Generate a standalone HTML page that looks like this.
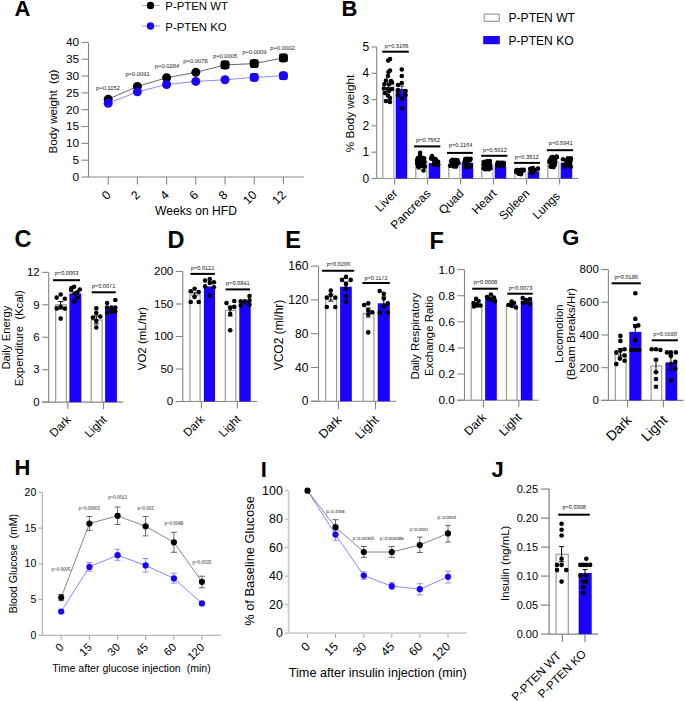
<!DOCTYPE html>
<html><head><meta charset="utf-8"><title>Figure</title>
<style>
html,body{margin:0;padding:0;background:#fff;}
body{width:685px;height:701px;overflow:hidden;}
svg{display:block;font-family:"Liberation Sans",sans-serif;white-space:pre;}
text.p{text-rendering:geometricPrecision;}
</style></head><body>
<svg width="685" height="701" viewBox="0 0 685 701">
<rect width="685" height="701" fill="#fff"/>
<text x="14.6" y="16.2" font-size="22" font-weight="bold">A</text>
<line x1="142" y1="5.5" x2="160" y2="5.5" stroke="#aaa" stroke-width="0.8"/>
<circle cx="150.5" cy="5.5" r="3.7" fill="#000"/>
<text x="165.3" y="10" font-size="11.4">P-PTEN WT</text>
<line x1="142" y1="26" x2="160" y2="26" stroke="#6666ff" stroke-width="0.7"/>
<circle cx="150.5" cy="26" r="3.7" fill="#1900ff"/>
<text x="165.3" y="30.6" font-size="11.4">P-PTEN KO</text>
<line x1="88.5" y1="42.4" x2="88.5" y2="177" stroke="#858585" stroke-width="1.1"/>
<line x1="81.5" y1="177" x2="88.5" y2="177" stroke="#858585" stroke-width="1.1"/>
<text x="79.1" y="180.92" font-size="11.8" text-anchor="end">0</text>
<line x1="81.5" y1="160.18" x2="88.5" y2="160.18" stroke="#858585" stroke-width="1.1"/>
<text x="79.1" y="164.1" font-size="11.8" text-anchor="end">5</text>
<line x1="81.5" y1="143.35" x2="88.5" y2="143.35" stroke="#858585" stroke-width="1.1"/>
<text x="79.1" y="147.27" font-size="11.8" text-anchor="end">10</text>
<line x1="81.5" y1="126.53" x2="88.5" y2="126.53" stroke="#858585" stroke-width="1.1"/>
<text x="79.1" y="130.45" font-size="11.8" text-anchor="end">15</text>
<line x1="81.5" y1="109.7" x2="88.5" y2="109.7" stroke="#858585" stroke-width="1.1"/>
<text x="79.1" y="113.62" font-size="11.8" text-anchor="end">20</text>
<line x1="81.5" y1="92.88" x2="88.5" y2="92.88" stroke="#858585" stroke-width="1.1"/>
<text x="79.1" y="96.8" font-size="11.8" text-anchor="end">25</text>
<line x1="81.5" y1="76.05" x2="88.5" y2="76.05" stroke="#858585" stroke-width="1.1"/>
<text x="79.1" y="79.97" font-size="11.8" text-anchor="end">30</text>
<line x1="81.5" y1="59.22" x2="88.5" y2="59.22" stroke="#858585" stroke-width="1.1"/>
<text x="79.1" y="63.15" font-size="11.8" text-anchor="end">35</text>
<line x1="81.5" y1="42.4" x2="88.5" y2="42.4" stroke="#858585" stroke-width="1.1"/>
<text x="79.1" y="46.32" font-size="11.8" text-anchor="end">40</text>
<line x1="88.5" y1="177" x2="304" y2="177" stroke="#858585" stroke-width="1.1"/>
<line x1="108.2" y1="177" x2="108.2" y2="184.5" stroke="#858585" stroke-width="1.1"/>
<text x="111.5" y="195.6" font-size="12.2" text-anchor="end" transform="rotate(-45 111.5 195.6)">0</text>
<line x1="137.4" y1="177" x2="137.4" y2="184.5" stroke="#858585" stroke-width="1.1"/>
<text x="140.7" y="195.6" font-size="12.2" text-anchor="end" transform="rotate(-45 140.7 195.6)">2</text>
<line x1="166.6" y1="177" x2="166.6" y2="184.5" stroke="#858585" stroke-width="1.1"/>
<text x="169.9" y="195.6" font-size="12.2" text-anchor="end" transform="rotate(-45 169.9 195.6)">4</text>
<line x1="195.8" y1="177" x2="195.8" y2="184.5" stroke="#858585" stroke-width="1.1"/>
<text x="199.1" y="195.6" font-size="12.2" text-anchor="end" transform="rotate(-45 199.1 195.6)">6</text>
<line x1="225" y1="177" x2="225" y2="184.5" stroke="#858585" stroke-width="1.1"/>
<text x="228.3" y="195.6" font-size="12.2" text-anchor="end" transform="rotate(-45 228.3 195.6)">8</text>
<line x1="254.2" y1="177" x2="254.2" y2="184.5" stroke="#858585" stroke-width="1.1"/>
<text x="257.5" y="195.6" font-size="12.2" text-anchor="end" transform="rotate(-45 257.5 195.6)">10</text>
<line x1="283.4" y1="177" x2="283.4" y2="184.5" stroke="#858585" stroke-width="1.1"/>
<text x="286.7" y="195.6" font-size="12.2" text-anchor="end" transform="rotate(-45 286.7 195.6)">12</text>
<text x="196" y="214.5" font-size="12.1" text-anchor="middle">Weeks on HFD</text>
<text x="57.5" y="111.6" font-size="11.6" text-anchor="middle" transform="rotate(-90 57.5 111.6)">Body weight &#160;(g)</text>
<polyline points="108.2,99.27 137.4,86.48 166.6,77.73 195.8,72.35 225,64.95 254.2,63.6 283.4,57.88" fill="none" stroke="#333" stroke-width="0.75"/>
<polyline points="108.2,103.31 137.4,91.87 166.6,84.46 195.8,81.43 225,79.75 254.2,77.4 283.4,75.71" fill="none" stroke="#5a5aff" stroke-width="0.7"/>
<circle cx="108.2" cy="99.27" r="4.5" fill="#000"/>
<circle cx="137.4" cy="86.48" r="4.5" fill="#000"/>
<circle cx="166.6" cy="77.73" r="4.5" fill="#000"/>
<circle cx="195.8" cy="72.35" r="4.5" fill="#000"/>
<circle cx="225" cy="64.95" r="4.5" fill="#000"/>
<circle cx="254.2" cy="63.6" r="4.5" fill="#000"/>
<circle cx="283.4" cy="57.88" r="4.5" fill="#000"/>
<rect x="220.6" y="60.55" width="8.8" height="8.8" rx="2" fill="#000"/>
<rect x="249.8" y="59.2" width="8.8" height="8.8" rx="2" fill="#000"/>
<rect x="279" y="53.48" width="8.8" height="8.8" rx="2" fill="#000"/>
<circle cx="108.2" cy="103.31" r="4.5" fill="#1900ff"/>
<circle cx="137.4" cy="91.87" r="4.5" fill="#1900ff"/>
<circle cx="166.6" cy="84.46" r="4.5" fill="#1900ff"/>
<circle cx="195.8" cy="81.43" r="4.5" fill="#1900ff"/>
<circle cx="225" cy="79.75" r="4.5" fill="#1900ff"/>
<circle cx="254.2" cy="77.4" r="4.5" fill="#1900ff"/>
<rect x="249.9" y="73.1" width="8.6" height="8.6" rx="2.6" fill="#1900ff"/>
<circle cx="283.4" cy="75.71" r="4.5" fill="#1900ff"/>
<rect x="279.1" y="71.41" width="8.6" height="8.6" rx="2.6" fill="#1900ff"/>
<text x="108" y="90.39" font-size="5.8" text-anchor="middle" fill="#111" class="p">p=0.1152</text>
<text x="137.6" y="75.79" font-size="5.8" text-anchor="middle" fill="#111" class="p">p=0.0091</text>
<text x="167" y="68.49" font-size="5.8" text-anchor="middle" fill="#111" class="p">p=0.0284</text>
<text x="195.5" y="63.29" font-size="5.8" text-anchor="middle" fill="#111" class="p">p=0.0078</text>
<text x="225.1" y="57.79" font-size="5.8" text-anchor="middle" fill="#111" class="p">p=0.0005</text>
<text x="254.3" y="53.69" font-size="5.8" text-anchor="middle" fill="#111" class="p">p=0.0009</text>
<text x="282.5" y="49.89" font-size="5.8" text-anchor="middle" fill="#111" class="p">p=0.0002</text>
<text x="341.6" y="16" font-size="22" font-weight="bold">B</text>
<rect x="484.2" y="14.1" width="15" height="7.2" fill="#fff" stroke="#888" stroke-width="1"/>
<text x="508.5" y="22.3" font-size="12.1">P-PTEN WT</text>
<rect x="483.2" y="36" width="16.6" height="8.2" fill="#1900ff"/>
<text x="508.5" y="44.7" font-size="12.1">P-PTEN KO</text>
<line x1="376.7" y1="47" x2="376.7" y2="178.5" stroke="#858585" stroke-width="1.1"/>
<line x1="371.7" y1="178.5" x2="376.7" y2="178.5" stroke="#858585" stroke-width="1.1"/>
<text x="369.1" y="182.5" font-size="12" text-anchor="end">0</text>
<line x1="371.7" y1="152.2" x2="376.7" y2="152.2" stroke="#858585" stroke-width="1.1"/>
<text x="369.1" y="156.2" font-size="12" text-anchor="end">1</text>
<line x1="371.7" y1="125.9" x2="376.7" y2="125.9" stroke="#858585" stroke-width="1.1"/>
<text x="369.1" y="129.9" font-size="12" text-anchor="end">2</text>
<line x1="371.7" y1="99.6" x2="376.7" y2="99.6" stroke="#858585" stroke-width="1.1"/>
<text x="369.1" y="103.6" font-size="12" text-anchor="end">3</text>
<line x1="371.7" y1="73.3" x2="376.7" y2="73.3" stroke="#858585" stroke-width="1.1"/>
<text x="369.1" y="77.3" font-size="12" text-anchor="end">4</text>
<line x1="371.7" y1="47" x2="376.7" y2="47" stroke="#858585" stroke-width="1.1"/>
<text x="369.1" y="51" font-size="12" text-anchor="end">5</text>
<line x1="376.7" y1="178.5" x2="578.5" y2="178.5" stroke="#858585" stroke-width="1.1"/>
<text x="354" y="113.5" font-size="11.7" text-anchor="middle" transform="rotate(-90 354 113.5)">% Body weight</text>
<rect x="382.8" y="83.82" width="10.8" height="94.68" fill="#fff" stroke="#999" stroke-width="1.2"/>
<line x1="393.7" y1="83.82" x2="393.7" y2="178.5" stroke="#c4c4c4" stroke-width="1.2"/>
<rect x="395.7" y="89.08" width="11.5" height="89.42" fill="#1900ff"/>
<line x1="394.6" y1="178.5" x2="394.6" y2="184.5" stroke="#858585" stroke-width="1.1"/>
<text x="398.4" y="194.2" font-size="12" text-anchor="end" transform="rotate(-45 398.4 194.2)">Liver</text>
<line x1="382.2" y1="51.7" x2="408.8" y2="51.7" stroke="#000" stroke-width="2"/>
<text x="396.6" y="47.55" font-size="5.7" text-anchor="middle" fill="#111" class="p">p=0.3165</text>
<rect x="415.8" y="161.41" width="10.8" height="17.09" fill="#fff" stroke="#999" stroke-width="1.2"/>
<line x1="426.7" y1="161.41" x2="426.7" y2="178.5" stroke="#c4c4c4" stroke-width="1.2"/>
<rect x="428.7" y="163.11" width="11.5" height="15.39" fill="#1900ff"/>
<line x1="427.6" y1="178.5" x2="427.6" y2="184.5" stroke="#858585" stroke-width="1.1"/>
<text x="431.4" y="194.2" font-size="12" text-anchor="end" transform="rotate(-45 431.4 194.2)">Pancreas</text>
<line x1="414.1" y1="146.4" x2="440.3" y2="146.4" stroke="#000" stroke-width="2"/>
<text x="427.9" y="142.35" font-size="5.7" text-anchor="middle" fill="#111" class="p">p=0.7562</text>
<rect x="448.8" y="164.03" width="10.8" height="14.47" fill="#fff" stroke="#999" stroke-width="1.2"/>
<line x1="459.7" y1="164.03" x2="459.7" y2="178.5" stroke="#c4c4c4" stroke-width="1.2"/>
<rect x="461.7" y="162.72" width="11.5" height="15.78" fill="#1900ff"/>
<line x1="460.6" y1="178.5" x2="460.6" y2="184.5" stroke="#858585" stroke-width="1.1"/>
<text x="464.4" y="194.2" font-size="12" text-anchor="end" transform="rotate(-45 464.4 194.2)">Quad</text>
<line x1="447" y1="152.9" x2="472.8" y2="152.9" stroke="#000" stroke-width="2"/>
<text x="460.6" y="147.25" font-size="5.7" text-anchor="middle" fill="#111" class="p">p=0.1164</text>
<rect x="481.8" y="164.03" width="10.8" height="14.47" fill="#fff" stroke="#999" stroke-width="1.2"/>
<line x1="492.7" y1="164.03" x2="492.7" y2="178.5" stroke="#c4c4c4" stroke-width="1.2"/>
<rect x="494.7" y="166.14" width="11.5" height="12.36" fill="#1900ff"/>
<line x1="493.6" y1="178.5" x2="493.6" y2="184.5" stroke="#858585" stroke-width="1.1"/>
<text x="497.4" y="194.2" font-size="12" text-anchor="end" transform="rotate(-45 497.4 194.2)">Heart</text>
<line x1="481.1" y1="155.8" x2="507.4" y2="155.8" stroke="#000" stroke-width="2"/>
<text x="495" y="152.05" font-size="5.7" text-anchor="middle" fill="#111" class="p">p=0.5012</text>
<rect x="514.8" y="171.14" width="10.8" height="7.36" fill="#fff" stroke="#999" stroke-width="1.2"/>
<line x1="525.7" y1="171.14" x2="525.7" y2="178.5" stroke="#c4c4c4" stroke-width="1.2"/>
<rect x="527.7" y="171.4" width="11.5" height="7.1" fill="#1900ff"/>
<line x1="526.6" y1="178.5" x2="526.6" y2="184.5" stroke="#858585" stroke-width="1.1"/>
<text x="530.4" y="194.2" font-size="12" text-anchor="end" transform="rotate(-45 530.4 194.2)">Spleen</text>
<line x1="514" y1="162.9" x2="540" y2="162.9" stroke="#000" stroke-width="2"/>
<text x="526.8" y="158.85" font-size="5.7" text-anchor="middle" fill="#111" class="p">p=0.3512</text>
<rect x="547.8" y="162.19" width="10.8" height="16.31" fill="#fff" stroke="#999" stroke-width="1.2"/>
<line x1="558.7" y1="162.19" x2="558.7" y2="178.5" stroke="#c4c4c4" stroke-width="1.2"/>
<rect x="560.7" y="162.72" width="11.5" height="15.78" fill="#1900ff"/>
<line x1="559.6" y1="178.5" x2="559.6" y2="184.5" stroke="#858585" stroke-width="1.1"/>
<text x="560.7" y="196.9" font-size="12" text-anchor="end" transform="rotate(-45 560.7 196.9)">Lungs</text>
<line x1="546.8" y1="150.2" x2="573.1" y2="150.2" stroke="#000" stroke-width="2"/>
<text x="560.7" y="145.25" font-size="5.7" text-anchor="middle" fill="#111" class="p">p=0.5941</text>
<circle cx="388.2" cy="60.5" r="2.3" fill="#000"/>
<circle cx="390" cy="59" r="2.3" fill="#000"/>
<circle cx="388.5" cy="72" r="2.3" fill="#000"/>
<circle cx="390" cy="70.5" r="2.3" fill="#000"/>
<circle cx="388" cy="76" r="2.3" fill="#000"/>
<circle cx="386" cy="80.5" r="2.3" fill="#000"/>
<circle cx="391" cy="81" r="2.3" fill="#000"/>
<circle cx="384.5" cy="84" r="2.3" fill="#000"/>
<circle cx="389" cy="84.5" r="2.3" fill="#000"/>
<circle cx="392" cy="82.5" r="2.3" fill="#000"/>
<circle cx="384" cy="88.5" r="2.3" fill="#000"/>
<circle cx="388" cy="89" r="2.3" fill="#000"/>
<circle cx="392" cy="89" r="2.3" fill="#000"/>
<circle cx="385" cy="93" r="2.3" fill="#000"/>
<circle cx="389" cy="91" r="2.3" fill="#000"/>
<circle cx="388" cy="95.5" r="2.3" fill="#000"/>
<circle cx="390" cy="98" r="2.3" fill="#000"/>
<circle cx="386" cy="101" r="2.3" fill="#000"/>
<circle cx="390" cy="102" r="2.3" fill="#000"/>
<circle cx="401.8" cy="69.5" r="2.3" fill="#000"/>
<circle cx="401.8" cy="76" r="2.3" fill="#000"/>
<circle cx="401.8" cy="83" r="2.3" fill="#000"/>
<circle cx="398" cy="85" r="2.3" fill="#000"/>
<circle cx="398" cy="90" r="2.3" fill="#000"/>
<circle cx="405.5" cy="91" r="2.3" fill="#000"/>
<circle cx="398" cy="95" r="2.3" fill="#000"/>
<circle cx="405.5" cy="95" r="2.3" fill="#000"/>
<circle cx="401.8" cy="98.5" r="2.3" fill="#000"/>
<circle cx="401.8" cy="108.5" r="2.3" fill="#000"/>
<line x1="401.8" y1="86" x2="401.8" y2="92" stroke="#333" stroke-width="1"/>
<line x1="399.3" y1="86" x2="404.3" y2="86" stroke="#333" stroke-width="1"/>
<line x1="399.3" y1="92" x2="404.3" y2="92" stroke="#333" stroke-width="1"/>
<circle cx="418.07" cy="166.47" r="2.3" fill="#000"/>
<circle cx="423.11" cy="160.55" r="2.3" fill="#000"/>
<circle cx="420.96" cy="162.49" r="2.3" fill="#000"/>
<circle cx="422.21" cy="165.89" r="2.3" fill="#000"/>
<circle cx="417.75" cy="158.28" r="2.3" fill="#000"/>
<circle cx="423.69" cy="162.33" r="2.3" fill="#000"/>
<circle cx="423.1" cy="158.02" r="2.3" fill="#000"/>
<circle cx="420.56" cy="165.22" r="2.3" fill="#000"/>
<circle cx="418.83" cy="167.45" r="2.3" fill="#000"/>
<circle cx="424.21" cy="158.31" r="2.3" fill="#000"/>
<circle cx="417.2" cy="163.41" r="2.3" fill="#000"/>
<circle cx="424.51" cy="161.81" r="2.3" fill="#000"/>
<circle cx="418.73" cy="162.22" r="2.3" fill="#000"/>
<circle cx="417.23" cy="160.22" r="2.3" fill="#000"/>
<circle cx="420.5" cy="162.96" r="2.3" fill="#000"/>
<circle cx="418.86" cy="160.31" r="2.3" fill="#000"/>
<circle cx="418.75" cy="162.6" r="2.3" fill="#000"/>
<circle cx="419.32" cy="158.21" r="2.3" fill="#000"/>
<circle cx="423.7" cy="163.56" r="2.3" fill="#000"/>
<circle cx="422.14" cy="159.86" r="2.3" fill="#000"/>
<circle cx="424.94" cy="166.6" r="2.3" fill="#000"/>
<circle cx="417.97" cy="161.33" r="2.3" fill="#000"/>
<circle cx="420.2" cy="152.7" r="2.3" fill="#000"/>
<circle cx="423.5" cy="170.5" r="2.3" fill="#000"/>
<circle cx="420" cy="155.5" r="2.3" fill="#000"/>
<circle cx="438.17" cy="164.63" r="2.3" fill="#000"/>
<circle cx="431.42" cy="158.59" r="2.3" fill="#000"/>
<circle cx="437.27" cy="163.15" r="2.3" fill="#000"/>
<circle cx="436.02" cy="160.16" r="2.3" fill="#000"/>
<circle cx="435.54" cy="162.25" r="2.3" fill="#000"/>
<circle cx="435.36" cy="159.11" r="2.3" fill="#000"/>
<circle cx="434.23" cy="160.75" r="2.3" fill="#000"/>
<circle cx="436.42" cy="164.96" r="2.3" fill="#000"/>
<circle cx="438.12" cy="161.81" r="2.3" fill="#000"/>
<circle cx="434.34" cy="159.88" r="2.3" fill="#000"/>
<circle cx="431.27" cy="158.19" r="2.3" fill="#000"/>
<circle cx="434.49" cy="160.23" r="2.3" fill="#000"/>
<circle cx="433.85" cy="164.24" r="2.3" fill="#000"/>
<circle cx="434.94" cy="161.92" r="2.3" fill="#000"/>
<circle cx="432.77" cy="158.17" r="2.3" fill="#000"/>
<circle cx="433.44" cy="158.96" r="2.3" fill="#000"/>
<circle cx="432" cy="156" r="2.3" fill="#000"/>
<circle cx="452.02" cy="163.58" r="2.3" fill="#000"/>
<circle cx="453.14" cy="164.03" r="2.3" fill="#000"/>
<circle cx="455.32" cy="159.99" r="2.3" fill="#000"/>
<circle cx="450.11" cy="165.78" r="2.3" fill="#000"/>
<circle cx="452.2" cy="161.26" r="2.3" fill="#000"/>
<circle cx="458.46" cy="163.03" r="2.3" fill="#000"/>
<circle cx="457.11" cy="163.07" r="2.3" fill="#000"/>
<circle cx="455.43" cy="160.63" r="2.3" fill="#000"/>
<circle cx="455.4" cy="166.01" r="2.3" fill="#000"/>
<circle cx="454.45" cy="165.06" r="2.3" fill="#000"/>
<circle cx="455.71" cy="159.98" r="2.3" fill="#000"/>
<circle cx="456.44" cy="163.93" r="2.3" fill="#000"/>
<circle cx="452.56" cy="159.73" r="2.3" fill="#000"/>
<circle cx="457.36" cy="163.05" r="2.3" fill="#000"/>
<circle cx="456.11" cy="166.09" r="2.3" fill="#000"/>
<circle cx="456.07" cy="166.41" r="2.3" fill="#000"/>
<circle cx="453.36" cy="165.51" r="2.3" fill="#000"/>
<circle cx="453.78" cy="166.52" r="2.3" fill="#000"/>
<circle cx="457.47" cy="160.23" r="2.3" fill="#000"/>
<circle cx="451.16" cy="161.13" r="2.3" fill="#000"/>
<circle cx="458.21" cy="162.77" r="2.3" fill="#000"/>
<circle cx="455.33" cy="161.76" r="2.3" fill="#000"/>
<circle cx="454.31" cy="162.39" r="2.3" fill="#000"/>
<circle cx="452.98" cy="163.89" r="2.3" fill="#000"/>
<circle cx="465.77" cy="159.03" r="2.3" fill="#000"/>
<circle cx="466.97" cy="159.55" r="2.3" fill="#000"/>
<circle cx="464.5" cy="162.02" r="2.3" fill="#000"/>
<circle cx="470.88" cy="166" r="2.3" fill="#000"/>
<circle cx="469.74" cy="160.22" r="2.3" fill="#000"/>
<circle cx="468.03" cy="160.77" r="2.3" fill="#000"/>
<circle cx="465.29" cy="159.06" r="2.3" fill="#000"/>
<circle cx="465.61" cy="167.27" r="2.3" fill="#000"/>
<circle cx="470.22" cy="166.07" r="2.3" fill="#000"/>
<circle cx="470" cy="159.93" r="2.3" fill="#000"/>
<circle cx="466.32" cy="164.27" r="2.3" fill="#000"/>
<circle cx="469.49" cy="166.55" r="2.3" fill="#000"/>
<circle cx="470.6" cy="158.87" r="2.3" fill="#000"/>
<circle cx="468.54" cy="164.72" r="2.3" fill="#000"/>
<circle cx="467.79" cy="159.78" r="2.3" fill="#000"/>
<circle cx="467.55" cy="158.89" r="2.3" fill="#000"/>
<circle cx="487.86" cy="167.05" r="2.3" fill="#000"/>
<circle cx="489.07" cy="168.95" r="2.3" fill="#000"/>
<circle cx="488.68" cy="168.76" r="2.3" fill="#000"/>
<circle cx="483.7" cy="164.42" r="2.3" fill="#000"/>
<circle cx="490.1" cy="166.17" r="2.3" fill="#000"/>
<circle cx="489.81" cy="161.08" r="2.3" fill="#000"/>
<circle cx="486.78" cy="162.34" r="2.3" fill="#000"/>
<circle cx="487.31" cy="165.45" r="2.3" fill="#000"/>
<circle cx="483.59" cy="162.06" r="2.3" fill="#000"/>
<circle cx="485.46" cy="168.71" r="2.3" fill="#000"/>
<circle cx="488.86" cy="161.52" r="2.3" fill="#000"/>
<circle cx="489.08" cy="161.32" r="2.3" fill="#000"/>
<circle cx="487.82" cy="161.2" r="2.3" fill="#000"/>
<circle cx="483.51" cy="168.28" r="2.3" fill="#000"/>
<circle cx="484.97" cy="162.05" r="2.3" fill="#000"/>
<circle cx="490.38" cy="168.29" r="2.3" fill="#000"/>
<circle cx="485.53" cy="169.13" r="2.3" fill="#000"/>
<circle cx="487.27" cy="166.44" r="2.3" fill="#000"/>
<circle cx="484.93" cy="168.94" r="2.3" fill="#000"/>
<circle cx="488.33" cy="169.18" r="2.3" fill="#000"/>
<circle cx="489.76" cy="162.84" r="2.3" fill="#000"/>
<circle cx="486.03" cy="161.58" r="2.3" fill="#000"/>
<circle cx="503.35" cy="165.61" r="2.3" fill="#000"/>
<circle cx="500.88" cy="162.81" r="2.3" fill="#000"/>
<circle cx="497" cy="164.81" r="2.3" fill="#000"/>
<circle cx="500.76" cy="165.3" r="2.3" fill="#000"/>
<circle cx="499.99" cy="165.35" r="2.3" fill="#000"/>
<circle cx="499.18" cy="165.51" r="2.3" fill="#000"/>
<circle cx="502.84" cy="163.57" r="2.3" fill="#000"/>
<circle cx="501.31" cy="164.91" r="2.3" fill="#000"/>
<circle cx="498.54" cy="164.27" r="2.3" fill="#000"/>
<circle cx="503.44" cy="162.83" r="2.3" fill="#000"/>
<circle cx="503.43" cy="164.93" r="2.3" fill="#000"/>
<circle cx="503.75" cy="163.18" r="2.3" fill="#000"/>
<circle cx="497.75" cy="165.5" r="2.3" fill="#000"/>
<circle cx="503.44" cy="163.73" r="2.3" fill="#000"/>
<circle cx="497.75" cy="162.49" r="2.3" fill="#000"/>
<circle cx="502.08" cy="162.96" r="2.3" fill="#000"/>
<circle cx="518.59" cy="170.25" r="2.3" fill="#000"/>
<circle cx="521.21" cy="169.86" r="2.3" fill="#000"/>
<circle cx="520.29" cy="171.33" r="2.3" fill="#000"/>
<circle cx="516.46" cy="172.04" r="2.3" fill="#000"/>
<circle cx="516.3" cy="171.67" r="2.3" fill="#000"/>
<circle cx="516.56" cy="169.95" r="2.3" fill="#000"/>
<circle cx="519.4" cy="173.63" r="2.3" fill="#000"/>
<circle cx="516.99" cy="170.62" r="2.3" fill="#000"/>
<circle cx="521.02" cy="174.24" r="2.3" fill="#000"/>
<circle cx="520.62" cy="171.48" r="2.3" fill="#000"/>
<circle cx="523.81" cy="169.73" r="2.3" fill="#000"/>
<circle cx="522.87" cy="170.95" r="2.3" fill="#000"/>
<circle cx="517.15" cy="170.09" r="2.3" fill="#000"/>
<circle cx="518.47" cy="173.58" r="2.3" fill="#000"/>
<circle cx="531.81" cy="172.79" r="2.3" fill="#000"/>
<circle cx="531.01" cy="171.38" r="2.3" fill="#000"/>
<circle cx="530.68" cy="168.86" r="2.3" fill="#000"/>
<circle cx="537.99" cy="168.65" r="2.3" fill="#000"/>
<circle cx="535.13" cy="170.03" r="2.3" fill="#000"/>
<circle cx="533.63" cy="170.22" r="2.3" fill="#000"/>
<circle cx="531.54" cy="172.07" r="2.3" fill="#000"/>
<circle cx="530.72" cy="168.79" r="2.3" fill="#000"/>
<circle cx="530.16" cy="168.97" r="2.3" fill="#000"/>
<circle cx="533.26" cy="172.46" r="2.3" fill="#000"/>
<circle cx="533.03" cy="168.13" r="2.3" fill="#000"/>
<circle cx="532.07" cy="172.95" r="2.3" fill="#000"/>
<circle cx="553.2" cy="160.48" r="2.3" fill="#000"/>
<circle cx="550.61" cy="166.4" r="2.3" fill="#000"/>
<circle cx="549.55" cy="162.03" r="2.3" fill="#000"/>
<circle cx="556.69" cy="156.97" r="2.3" fill="#000"/>
<circle cx="553.93" cy="163.4" r="2.3" fill="#000"/>
<circle cx="549.83" cy="160.55" r="2.3" fill="#000"/>
<circle cx="555.13" cy="161.42" r="2.3" fill="#000"/>
<circle cx="555.3" cy="157.89" r="2.3" fill="#000"/>
<circle cx="551.4" cy="157.33" r="2.3" fill="#000"/>
<circle cx="553.55" cy="167.09" r="2.3" fill="#000"/>
<circle cx="554.22" cy="165.29" r="2.3" fill="#000"/>
<circle cx="552.57" cy="164.95" r="2.3" fill="#000"/>
<circle cx="550.31" cy="159.49" r="2.3" fill="#000"/>
<circle cx="554.89" cy="164.71" r="2.3" fill="#000"/>
<circle cx="552.87" cy="157.05" r="2.3" fill="#000"/>
<circle cx="551.63" cy="158.52" r="2.3" fill="#000"/>
<circle cx="551.75" cy="165.71" r="2.3" fill="#000"/>
<circle cx="551.1" cy="166.64" r="2.3" fill="#000"/>
<circle cx="556.53" cy="156.66" r="2.3" fill="#000"/>
<circle cx="552.53" cy="161.9" r="2.3" fill="#000"/>
<circle cx="549.69" cy="161.1" r="2.3" fill="#000"/>
<circle cx="556.75" cy="157.34" r="2.3" fill="#000"/>
<circle cx="567.57" cy="161.86" r="2.3" fill="#000"/>
<circle cx="567.62" cy="159.85" r="2.3" fill="#000"/>
<circle cx="569.51" cy="165.41" r="2.3" fill="#000"/>
<circle cx="568.23" cy="159.44" r="2.3" fill="#000"/>
<circle cx="567.17" cy="160.95" r="2.3" fill="#000"/>
<circle cx="565" cy="166.58" r="2.3" fill="#000"/>
<circle cx="570.97" cy="158.4" r="2.3" fill="#000"/>
<circle cx="569.88" cy="163.43" r="2.3" fill="#000"/>
<circle cx="566.05" cy="160.55" r="2.3" fill="#000"/>
<circle cx="568.4" cy="162.11" r="2.3" fill="#000"/>
<circle cx="568.49" cy="163.96" r="2.3" fill="#000"/>
<circle cx="564.06" cy="164.91" r="2.3" fill="#000"/>
<circle cx="570.86" cy="166.72" r="2.3" fill="#000"/>
<circle cx="567.91" cy="158.4" r="2.3" fill="#000"/>
<circle cx="563.03" cy="159.21" r="2.3" fill="#000"/>
<circle cx="570.53" cy="160.73" r="2.3" fill="#000"/>
<text x="14.4" y="247.2" font-size="23.5" font-weight="bold">C</text>
<line x1="48.7" y1="272.38" x2="48.7" y2="402.1" stroke="#858585" stroke-width="1.1"/>
<line x1="42.2" y1="402.1" x2="48.7" y2="402.1" stroke="#858585" stroke-width="1.1"/>
<text x="39.6" y="405.88" font-size="11.4" text-anchor="end">0</text>
<line x1="42.2" y1="369.67" x2="48.7" y2="369.67" stroke="#858585" stroke-width="1.1"/>
<text x="39.6" y="373.45" font-size="11.4" text-anchor="end">3</text>
<line x1="42.2" y1="337.24" x2="48.7" y2="337.24" stroke="#858585" stroke-width="1.1"/>
<text x="39.6" y="341.02" font-size="11.4" text-anchor="end">6</text>
<line x1="42.2" y1="304.81" x2="48.7" y2="304.81" stroke="#858585" stroke-width="1.1"/>
<text x="39.6" y="308.59" font-size="11.4" text-anchor="end">9</text>
<line x1="42.2" y1="272.38" x2="48.7" y2="272.38" stroke="#858585" stroke-width="1.1"/>
<text x="39.6" y="276.16" font-size="11.4" text-anchor="end">12</text>
<line x1="42.2" y1="402.1" x2="123.2" y2="402.1" stroke="#858585" stroke-width="1.1"/>
<rect x="55.7" y="304.81" width="10.6" height="97.29" fill="#fff" stroke="#999" stroke-width="1.2"/>
<rect x="69.4" y="293.46" width="11.9" height="108.64" fill="#1900ff"/>
<rect x="91.2" y="319.94" width="10.9" height="82.16" fill="#fff" stroke="#999" stroke-width="1.2"/>
<rect x="105.1" y="307.51" width="11.8" height="94.59" fill="#1900ff"/>
<line x1="67.8" y1="402.1" x2="67.8" y2="409.1" stroke="#858585" stroke-width="1.1"/>
<text x="71.6" y="420.4" font-size="11.6" text-anchor="end" transform="rotate(-45 71.6 420.4)">Dark</text>
<line x1="103.5" y1="402.1" x2="103.5" y2="409.1" stroke="#858585" stroke-width="1.1"/>
<text x="107.3" y="420.4" font-size="11.6" text-anchor="end" transform="rotate(-45 107.3 420.4)">Light</text>
<line x1="53" y1="280.2" x2="80" y2="280.2" stroke="#000" stroke-width="2"/>
<text x="66.5" y="275.42" font-size="5.6" text-anchor="middle" fill="#111" class="p">p=0.0063</text>
<line x1="91.7" y1="292.3" x2="115.7" y2="292.3" stroke="#000" stroke-width="2"/>
<text x="103.5" y="287.82" font-size="5.6" text-anchor="middle" fill="#111" class="p">p=0.0071</text>
<text x="9.6" y="337.6" font-size="11.3" text-anchor="middle" transform="rotate(-90 9.6 337.6)">Daily Energy</text>
<text x="23.4" y="338.3" font-size="11.3" text-anchor="middle" transform="rotate(-90 23.4 338.3)">Expenditure &#160;(Kcal)</text>
<circle cx="60.7" cy="294.5" r="2.3" fill="#000"/>
<circle cx="56.7" cy="297.6" r="2.3" fill="#000"/>
<circle cx="64.8" cy="298.8" r="2.3" fill="#000"/>
<circle cx="56.7" cy="308.4" r="2.3" fill="#000"/>
<circle cx="60.7" cy="306.9" r="2.3" fill="#000"/>
<circle cx="64.8" cy="308.6" r="2.3" fill="#000"/>
<circle cx="60.7" cy="318.6" r="2.3" fill="#000"/>
<line x1="60.7" y1="301.6" x2="60.7" y2="309" stroke="#000" stroke-width="1"/>
<line x1="58.2" y1="301.6" x2="63.2" y2="301.6" stroke="#000" stroke-width="1"/>
<line x1="58.2" y1="309" x2="63.2" y2="309" stroke="#000" stroke-width="1"/>
<circle cx="74.1" cy="286.8" r="2.3" fill="#000"/>
<circle cx="71.1" cy="290.1" r="2.3" fill="#000"/>
<circle cx="79.8" cy="289.5" r="2.3" fill="#000"/>
<circle cx="74.5" cy="293.5" r="2.3" fill="#000"/>
<circle cx="77.3" cy="292.4" r="2.3" fill="#000"/>
<circle cx="77.3" cy="297.6" r="2.3" fill="#000"/>
<circle cx="74.1" cy="301.5" r="2.3" fill="#000"/>
<circle cx="71.5" cy="288" r="2.3" fill="#000"/>
<circle cx="96.3" cy="308.4" r="2.3" fill="#000"/>
<circle cx="96.3" cy="313" r="2.3" fill="#000"/>
<circle cx="92.9" cy="317.6" r="2.3" fill="#000"/>
<circle cx="100.3" cy="316.5" r="2.3" fill="#000"/>
<circle cx="96.3" cy="320.9" r="2.3" fill="#000"/>
<circle cx="96.3" cy="327.5" r="2.3" fill="#000"/>
<line x1="96.3" y1="316" x2="96.3" y2="324" stroke="#000" stroke-width="1"/>
<line x1="93.8" y1="316" x2="98.8" y2="316" stroke="#000" stroke-width="1"/>
<line x1="93.8" y1="324" x2="98.8" y2="324" stroke="#000" stroke-width="1"/>
<circle cx="107.1" cy="303.1" r="2.3" fill="#000"/>
<circle cx="115.3" cy="300" r="2.3" fill="#000"/>
<circle cx="107.1" cy="307.5" r="2.3" fill="#000"/>
<circle cx="111.5" cy="307.5" r="2.3" fill="#000"/>
<circle cx="115.3" cy="307.5" r="2.3" fill="#000"/>
<circle cx="107.1" cy="312.7" r="2.3" fill="#000"/>
<circle cx="111.5" cy="311.6" r="2.3" fill="#000"/>
<circle cx="115.3" cy="311.6" r="2.3" fill="#000"/>
<text x="167.4" y="247.6" font-size="23.5" font-weight="bold">D</text>
<line x1="182.8" y1="271.5" x2="182.8" y2="401.5" stroke="#858585" stroke-width="1.1"/>
<line x1="175.8" y1="401.5" x2="182.8" y2="401.5" stroke="#858585" stroke-width="1.1"/>
<text x="173.3" y="405.35" font-size="11.6" text-anchor="end">0</text>
<line x1="175.8" y1="369" x2="182.8" y2="369" stroke="#858585" stroke-width="1.1"/>
<text x="173.3" y="372.85" font-size="11.6" text-anchor="end">50</text>
<line x1="175.8" y1="336.5" x2="182.8" y2="336.5" stroke="#858585" stroke-width="1.1"/>
<text x="173.3" y="340.35" font-size="11.6" text-anchor="end">100</text>
<line x1="175.8" y1="304" x2="182.8" y2="304" stroke="#858585" stroke-width="1.1"/>
<text x="173.3" y="307.85" font-size="11.6" text-anchor="end">150</text>
<line x1="175.8" y1="271.5" x2="182.8" y2="271.5" stroke="#858585" stroke-width="1.1"/>
<text x="173.3" y="275.35" font-size="11.6" text-anchor="end">200</text>
<line x1="175.8" y1="401.5" x2="257.3" y2="401.5" stroke="#858585" stroke-width="1.1"/>
<rect x="190" y="294.9" width="10.1" height="106.6" fill="#fff" stroke="#999" stroke-width="1.2"/>
<rect x="203.9" y="286.45" width="11.1" height="115.05" fill="#1900ff"/>
<rect x="225.3" y="310.5" width="10.5" height="91" fill="#fff" stroke="#999" stroke-width="1.2"/>
<rect x="239.3" y="300.75" width="11.4" height="100.75" fill="#1900ff"/>
<line x1="201.4" y1="401.5" x2="201.4" y2="408.5" stroke="#858585" stroke-width="1.1"/>
<text x="205.4" y="420" font-size="11.6" text-anchor="end" transform="rotate(-45 205.4 420)">Dark</text>
<line x1="237.4" y1="401.5" x2="237.4" y2="408.5" stroke="#858585" stroke-width="1.1"/>
<text x="241.4" y="420" font-size="11.6" text-anchor="end" transform="rotate(-45 241.4 420)">Light</text>
<line x1="190.4" y1="273.9" x2="214.8" y2="273.9" stroke="#000" stroke-width="2"/>
<text x="202.6" y="269.52" font-size="5.6" text-anchor="middle" fill="#111" class="p">p=0.0122</text>
<line x1="225.6" y1="289.4" x2="250" y2="289.4" stroke="#000" stroke-width="2"/>
<text x="237.8" y="285.02" font-size="5.6" text-anchor="middle" fill="#111" class="p">p=0.0841</text>
<text x="146.5" y="338.6" font-size="11.5" text-anchor="middle" transform="rotate(-90 146.5 338.6)">VO2 (mL/hr)</text>
<circle cx="190.7" cy="291.3" r="2.3" fill="#000"/>
<circle cx="194.6" cy="288.8" r="2.3" fill="#000"/>
<circle cx="198.7" cy="292" r="2.3" fill="#000"/>
<circle cx="194.6" cy="296.9" r="2.3" fill="#000"/>
<circle cx="190.7" cy="302" r="2.3" fill="#000"/>
<circle cx="198.7" cy="302" r="2.3" fill="#000"/>
<line x1="194.6" y1="292.8" x2="194.6" y2="296.4" stroke="#000" stroke-width="1"/>
<line x1="192.1" y1="292.8" x2="197.1" y2="292.8" stroke="#000" stroke-width="1"/>
<line x1="192.1" y1="296.4" x2="197.1" y2="296.4" stroke="#000" stroke-width="1"/>
<circle cx="205.1" cy="280.6" r="2.3" fill="#000"/>
<circle cx="209.8" cy="282.9" r="2.3" fill="#000"/>
<circle cx="213.9" cy="282.3" r="2.3" fill="#000"/>
<circle cx="205.1" cy="286.4" r="2.3" fill="#000"/>
<circle cx="213.9" cy="287.2" r="2.3" fill="#000"/>
<circle cx="209.8" cy="295.5" r="2.3" fill="#000"/>
<circle cx="209.8" cy="279" r="2.3" fill="#000"/>
<circle cx="226.5" cy="303" r="2.3" fill="#000"/>
<circle cx="234.3" cy="301" r="2.3" fill="#000"/>
<circle cx="234.3" cy="306.9" r="2.3" fill="#000"/>
<circle cx="230.2" cy="308" r="2.3" fill="#000"/>
<circle cx="230.2" cy="313.9" r="2.3" fill="#000"/>
<circle cx="230.2" cy="330.2" r="2.3" fill="#000"/>
<line x1="230.2" y1="306" x2="230.2" y2="316" stroke="#000" stroke-width="1"/>
<line x1="227.7" y1="306" x2="232.7" y2="306" stroke="#000" stroke-width="1"/>
<line x1="227.7" y1="316" x2="232.7" y2="316" stroke="#000" stroke-width="1"/>
<circle cx="249.5" cy="296" r="2.3" fill="#000"/>
<circle cx="240.7" cy="301.4" r="2.3" fill="#000"/>
<circle cx="244.8" cy="301.4" r="2.3" fill="#000"/>
<circle cx="249.5" cy="300.4" r="2.3" fill="#000"/>
<circle cx="240.7" cy="305.5" r="2.3" fill="#000"/>
<circle cx="249.5" cy="304.8" r="2.3" fill="#000"/>
<text x="285.3" y="247.5" font-size="23.5" font-weight="bold">E</text>
<line x1="318.5" y1="266.1" x2="318.5" y2="401.3" stroke="#858585" stroke-width="1.1"/>
<line x1="311" y1="401.3" x2="318.5" y2="401.3" stroke="#858585" stroke-width="1.1"/>
<text x="308.4" y="405.33" font-size="12.1" text-anchor="end">0</text>
<line x1="311" y1="367.5" x2="318.5" y2="367.5" stroke="#858585" stroke-width="1.1"/>
<text x="308.4" y="371.53" font-size="12.1" text-anchor="end">40</text>
<line x1="311" y1="333.7" x2="318.5" y2="333.7" stroke="#858585" stroke-width="1.1"/>
<text x="308.4" y="337.73" font-size="12.1" text-anchor="end">80</text>
<line x1="311" y1="299.9" x2="318.5" y2="299.9" stroke="#858585" stroke-width="1.1"/>
<text x="308.4" y="303.93" font-size="12.1" text-anchor="end">120</text>
<line x1="311" y1="266.1" x2="318.5" y2="266.1" stroke="#858585" stroke-width="1.1"/>
<text x="308.4" y="270.13" font-size="12.1" text-anchor="end">160</text>
<line x1="311" y1="401.3" x2="396.4" y2="401.3" stroke="#858585" stroke-width="1.1"/>
<rect x="325.7" y="299.48" width="10.9" height="101.82" fill="#fff" stroke="#999" stroke-width="1.2"/>
<rect x="340.1" y="286.72" width="11.7" height="114.58" fill="#1900ff"/>
<rect x="363.1" y="313.42" width="10.8" height="87.88" fill="#fff" stroke="#999" stroke-width="1.2"/>
<rect x="377.7" y="303.28" width="12.1" height="98.02" fill="#1900ff"/>
<line x1="338.4" y1="401.3" x2="338.4" y2="409.3" stroke="#858585" stroke-width="1.1"/>
<text x="342.4" y="420.5" font-size="12.5" text-anchor="end" transform="rotate(-45 342.4 420.5)">Dark</text>
<line x1="375.5" y1="401.3" x2="375.5" y2="409.3" stroke="#858585" stroke-width="1.1"/>
<text x="379.5" y="420.5" font-size="12.5" text-anchor="end" transform="rotate(-45 379.5 420.5)">Light</text>
<line x1="322.1" y1="270.7" x2="354.2" y2="270.7" stroke="#000" stroke-width="2"/>
<text x="338.4" y="266.12" font-size="5.6" text-anchor="middle" fill="#111" class="p">p=0.0206</text>
<line x1="362.4" y1="283" x2="389.8" y2="283" stroke="#000" stroke-width="2"/>
<text x="376" y="279.52" font-size="5.6" text-anchor="middle" fill="#111" class="p">p=0.1172</text>
<text x="282.5" y="335" font-size="12" text-anchor="middle" transform="rotate(-90 282.5 335)">VCO2 (ml/hr)</text>
<circle cx="330.8" cy="290.6" r="2.3" fill="#000"/>
<circle cx="330.8" cy="295" r="2.3" fill="#000"/>
<circle cx="326.8" cy="297.6" r="2.3" fill="#000"/>
<circle cx="335.3" cy="297.6" r="2.3" fill="#000"/>
<circle cx="326.8" cy="307" r="2.3" fill="#000"/>
<circle cx="335.3" cy="307" r="2.3" fill="#000"/>
<line x1="330.8" y1="294.5" x2="330.8" y2="301.1" stroke="#000" stroke-width="1"/>
<line x1="328.3" y1="294.5" x2="333.3" y2="294.5" stroke="#000" stroke-width="1"/>
<line x1="328.3" y1="301.1" x2="333.3" y2="301.1" stroke="#000" stroke-width="1"/>
<circle cx="346" cy="276.9" r="2.3" fill="#000"/>
<circle cx="342" cy="279.9" r="2.3" fill="#000"/>
<circle cx="350.7" cy="279.9" r="2.3" fill="#000"/>
<circle cx="346" cy="284" r="2.3" fill="#000"/>
<circle cx="346" cy="288.6" r="2.3" fill="#000"/>
<circle cx="346" cy="296.2" r="2.3" fill="#000"/>
<circle cx="346" cy="301.7" r="2.3" fill="#000"/>
<line x1="346" y1="282" x2="346" y2="290" stroke="#000" stroke-width="1"/>
<line x1="343.5" y1="282" x2="348.5" y2="282" stroke="#000" stroke-width="1"/>
<line x1="343.5" y1="290" x2="348.5" y2="290" stroke="#000" stroke-width="1"/>
<circle cx="364.1" cy="305" r="2.3" fill="#000"/>
<circle cx="368.2" cy="303.4" r="2.3" fill="#000"/>
<circle cx="368.2" cy="310.2" r="2.3" fill="#000"/>
<circle cx="372.3" cy="312.3" r="2.3" fill="#000"/>
<circle cx="368.2" cy="314.3" r="2.3" fill="#000"/>
<circle cx="368.2" cy="332.4" r="2.3" fill="#000"/>
<line x1="368.2" y1="308" x2="368.2" y2="317" stroke="#000" stroke-width="1"/>
<line x1="365.7" y1="308" x2="370.7" y2="308" stroke="#000" stroke-width="1"/>
<line x1="365.7" y1="317" x2="370.7" y2="317" stroke="#000" stroke-width="1"/>
<circle cx="379.7" cy="291" r="2.3" fill="#000"/>
<circle cx="383.8" cy="293.9" r="2.3" fill="#000"/>
<circle cx="383.8" cy="298.5" r="2.3" fill="#000"/>
<circle cx="387.8" cy="303.4" r="2.3" fill="#000"/>
<circle cx="383.8" cy="306.5" r="2.3" fill="#000"/>
<circle cx="379.7" cy="312.6" r="2.3" fill="#000"/>
<circle cx="387.8" cy="312.6" r="2.3" fill="#000"/>
<line x1="383.8" y1="297" x2="383.8" y2="306" stroke="#000" stroke-width="1"/>
<line x1="381.3" y1="297" x2="386.3" y2="297" stroke="#000" stroke-width="1"/>
<line x1="381.3" y1="306" x2="386.3" y2="306" stroke="#000" stroke-width="1"/>
<text x="429.4" y="248.7" font-size="23.5" font-weight="bold">F</text>
<line x1="464.5" y1="269.6" x2="464.5" y2="400.2" stroke="#858585" stroke-width="1.1"/>
<line x1="457.5" y1="400.2" x2="464.5" y2="400.2" stroke="#858585" stroke-width="1.1"/>
<text x="454.9" y="404.12" font-size="11.8" text-anchor="end">0.0</text>
<line x1="457.5" y1="374.08" x2="464.5" y2="374.08" stroke="#858585" stroke-width="1.1"/>
<text x="454.9" y="378" font-size="11.8" text-anchor="end">0.2</text>
<line x1="457.5" y1="347.96" x2="464.5" y2="347.96" stroke="#858585" stroke-width="1.1"/>
<text x="454.9" y="351.88" font-size="11.8" text-anchor="end">0.4</text>
<line x1="457.5" y1="321.84" x2="464.5" y2="321.84" stroke="#858585" stroke-width="1.1"/>
<text x="454.9" y="325.76" font-size="11.8" text-anchor="end">0.6</text>
<line x1="457.5" y1="295.72" x2="464.5" y2="295.72" stroke="#858585" stroke-width="1.1"/>
<text x="454.9" y="299.64" font-size="11.8" text-anchor="end">0.8</text>
<line x1="457.5" y1="269.6" x2="464.5" y2="269.6" stroke="#858585" stroke-width="1.1"/>
<text x="454.9" y="273.52" font-size="11.8" text-anchor="end">1.0</text>
<line x1="457.5" y1="400.2" x2="538.6" y2="400.2" stroke="#858585" stroke-width="1.1"/>
<rect x="471.2" y="304.99" width="10.5" height="95.21" fill="#fff" stroke="#999" stroke-width="1.2"/>
<rect x="485.1" y="298.59" width="11.7" height="101.61" fill="#1900ff"/>
<rect x="506.5" y="304.99" width="10.5" height="95.21" fill="#fff" stroke="#999" stroke-width="1.2"/>
<rect x="520.8" y="300.55" width="11.7" height="99.65" fill="#1900ff"/>
<line x1="483.4" y1="400.2" x2="483.4" y2="407.2" stroke="#858585" stroke-width="1.1"/>
<text x="487.1" y="418.2" font-size="12.1" text-anchor="end" transform="rotate(-45 487.1 418.2)">Dark</text>
<line x1="518.8" y1="400.2" x2="518.8" y2="407.2" stroke="#858585" stroke-width="1.1"/>
<text x="522.5" y="418.2" font-size="12.1" text-anchor="end" transform="rotate(-45 522.5 418.2)">Light</text>
<line x1="472.2" y1="288.7" x2="498" y2="288.7" stroke="#000" stroke-width="2"/>
<text x="485.4" y="284.02" font-size="5.6" text-anchor="middle" fill="#111" class="p">p=0.0008</text>
<line x1="507.3" y1="293.7" x2="532.7" y2="293.7" stroke="#000" stroke-width="2"/>
<text x="520.5" y="289.52" font-size="5.6" text-anchor="middle" fill="#111" class="p">p=0.0073</text>
<text x="419.3" y="336.2" font-size="11.4" text-anchor="middle" transform="rotate(-90 419.3 336.2)">Daily Respiratory</text>
<text x="433.3" y="335.9" font-size="11.4" text-anchor="middle" transform="rotate(-90 433.3 335.9)">Exchange Ratio</text>
<circle cx="476.1" cy="298.9" r="2.3" fill="#000"/>
<circle cx="478.6" cy="301" r="2.3" fill="#000"/>
<circle cx="473.5" cy="303" r="2.3" fill="#000"/>
<circle cx="477" cy="304" r="2.3" fill="#000"/>
<circle cx="480.5" cy="305.5" r="2.3" fill="#000"/>
<circle cx="474" cy="306.5" r="2.3" fill="#000"/>
<circle cx="477.5" cy="305.5" r="2.3" fill="#000"/>
<circle cx="490.9" cy="294.5" r="2.3" fill="#000"/>
<circle cx="488" cy="298" r="2.3" fill="#000"/>
<circle cx="490" cy="299" r="2.3" fill="#000"/>
<circle cx="494" cy="297.5" r="2.3" fill="#000"/>
<circle cx="495" cy="301.5" r="2.3" fill="#000"/>
<circle cx="492" cy="300" r="2.3" fill="#000"/>
<circle cx="487" cy="297" r="2.3" fill="#000"/>
<circle cx="511.7" cy="301.5" r="2.3" fill="#000"/>
<circle cx="508.5" cy="305" r="2.3" fill="#000"/>
<circle cx="514" cy="303" r="2.3" fill="#000"/>
<circle cx="510.5" cy="304.5" r="2.3" fill="#000"/>
<circle cx="516" cy="307.5" r="2.3" fill="#000"/>
<circle cx="512" cy="306" r="2.3" fill="#000"/>
<circle cx="522.7" cy="298" r="2.3" fill="#000"/>
<circle cx="526" cy="300" r="2.3" fill="#000"/>
<circle cx="530" cy="299" r="2.3" fill="#000"/>
<circle cx="523" cy="303" r="2.3" fill="#000"/>
<circle cx="530" cy="304" r="2.3" fill="#000"/>
<circle cx="527" cy="302" r="2.3" fill="#000"/>
<text x="562.2" y="245.4" font-size="22" font-weight="bold">G</text>
<line x1="608.4" y1="269.52" x2="608.4" y2="400.4" stroke="#858585" stroke-width="1.1"/>
<line x1="601.4" y1="400.4" x2="608.4" y2="400.4" stroke="#858585" stroke-width="1.1"/>
<text x="598.8" y="404.22" font-size="11.5" text-anchor="end">0</text>
<line x1="601.4" y1="367.68" x2="608.4" y2="367.68" stroke="#858585" stroke-width="1.1"/>
<text x="598.8" y="371.5" font-size="11.5" text-anchor="end">200</text>
<line x1="601.4" y1="334.96" x2="608.4" y2="334.96" stroke="#858585" stroke-width="1.1"/>
<text x="598.8" y="338.78" font-size="11.5" text-anchor="end">400</text>
<line x1="601.4" y1="302.24" x2="608.4" y2="302.24" stroke="#858585" stroke-width="1.1"/>
<text x="598.8" y="306.06" font-size="11.5" text-anchor="end">600</text>
<line x1="601.4" y1="269.52" x2="608.4" y2="269.52" stroke="#858585" stroke-width="1.1"/>
<text x="598.8" y="273.34" font-size="11.5" text-anchor="end">800</text>
<line x1="601.4" y1="400.4" x2="683.5" y2="400.4" stroke="#858585" stroke-width="1.1"/>
<rect x="615.3" y="354.26" width="10.7" height="46.14" fill="#fff" stroke="#999" stroke-width="1.2"/>
<rect x="629.3" y="331.85" width="12.1" height="68.55" fill="#1900ff"/>
<rect x="651.1" y="366.04" width="10.6" height="34.36" fill="#fff" stroke="#999" stroke-width="1.2"/>
<rect x="665.4" y="362.44" width="11.8" height="37.96" fill="#1900ff"/>
<line x1="627.6" y1="400.4" x2="627.6" y2="407.4" stroke="#858585" stroke-width="1.1"/>
<text x="632.4" y="421.1" font-size="13.8" text-anchor="end" transform="rotate(-45 632.4 421.1)">Dark</text>
<line x1="663.4" y1="400.4" x2="663.4" y2="407.4" stroke="#858585" stroke-width="1.1"/>
<text x="668.2" y="421.1" font-size="13.8" text-anchor="end" transform="rotate(-45 668.2 421.1)">Light</text>
<line x1="611.6" y1="283.3" x2="640.8" y2="283.3" stroke="#000" stroke-width="2"/>
<text x="626.2" y="279.12" font-size="5.6" text-anchor="middle" fill="#111" class="p">p=0.0186</text>
<line x1="651.7" y1="340.3" x2="677.9" y2="340.3" stroke="#000" stroke-width="2"/>
<text x="665.1" y="335.52" font-size="5.6" text-anchor="middle" fill="#111" class="p">p=0.5590</text>
<text x="563" y="333.7" font-size="11.3" text-anchor="middle" transform="rotate(-90 563 333.7)">Locomotion</text>
<text x="575.4" y="334" font-size="11.5" text-anchor="middle" transform="rotate(-90 575.4 334)">(Beam Breaks/Hr)</text>
<circle cx="620.4" cy="335.9" r="2.3" fill="#000"/>
<circle cx="620.4" cy="340.9" r="2.3" fill="#000"/>
<circle cx="616.3" cy="352.4" r="2.3" fill="#000"/>
<circle cx="624.6" cy="349.2" r="2.3" fill="#000"/>
<circle cx="620.4" cy="350.8" r="2.3" fill="#000"/>
<circle cx="624.6" cy="355.5" r="2.3" fill="#000"/>
<circle cx="619.9" cy="358.6" r="2.3" fill="#000"/>
<circle cx="624.6" cy="360.7" r="2.3" fill="#000"/>
<circle cx="616.3" cy="364.1" r="2.3" fill="#000"/>
<line x1="620.4" y1="348.5" x2="620.4" y2="356" stroke="#000" stroke-width="1"/>
<line x1="617.9" y1="348.5" x2="622.9" y2="348.5" stroke="#000" stroke-width="1"/>
<line x1="617.9" y1="356" x2="622.9" y2="356" stroke="#000" stroke-width="1"/>
<circle cx="635.3" cy="293.2" r="2.3" fill="#000"/>
<circle cx="635.3" cy="318.9" r="2.3" fill="#000"/>
<circle cx="638.3" cy="325.4" r="2.3" fill="#000"/>
<circle cx="635.3" cy="326.2" r="2.3" fill="#000"/>
<circle cx="635.3" cy="340.3" r="2.3" fill="#000"/>
<circle cx="631.4" cy="350" r="2.3" fill="#000"/>
<circle cx="635.3" cy="350" r="2.3" fill="#000"/>
<circle cx="639.5" cy="350" r="2.3" fill="#000"/>
<line x1="635.3" y1="324.6" x2="635.3" y2="341.4" stroke="#000" stroke-width="1"/>
<line x1="632.8" y1="324.6" x2="637.8" y2="324.6" stroke="#000" stroke-width="1"/>
<line x1="632.8" y1="341.4" x2="637.8" y2="341.4" stroke="#000" stroke-width="1"/>
<circle cx="651.7" cy="349.2" r="2.3" fill="#000"/>
<circle cx="656" cy="349.2" r="2.3" fill="#000"/>
<circle cx="660.4" cy="350" r="2.3" fill="#000"/>
<circle cx="656" cy="359.7" r="2.3" fill="#000"/>
<circle cx="656" cy="372.3" r="2.3" fill="#000"/>
<circle cx="656" cy="379" r="2.3" fill="#000"/>
<circle cx="656" cy="386.8" r="2.3" fill="#000"/>
<line x1="656" y1="360" x2="656" y2="372" stroke="#000" stroke-width="1"/>
<line x1="653.5" y1="360" x2="658.5" y2="360" stroke="#000" stroke-width="1"/>
<line x1="653.5" y1="372" x2="658.5" y2="372" stroke="#000" stroke-width="1"/>
<circle cx="667" cy="352.4" r="2.3" fill="#000"/>
<circle cx="670.9" cy="352.4" r="2.3" fill="#000"/>
<circle cx="675.9" cy="352.4" r="2.3" fill="#000"/>
<circle cx="670.9" cy="356" r="2.3" fill="#000"/>
<circle cx="675.3" cy="361.8" r="2.3" fill="#000"/>
<circle cx="670.9" cy="364.1" r="2.3" fill="#000"/>
<circle cx="675.3" cy="368.5" r="2.3" fill="#000"/>
<circle cx="670.9" cy="380.4" r="2.3" fill="#000"/>
<line x1="670.9" y1="355" x2="670.9" y2="370" stroke="#000" stroke-width="1"/>
<line x1="668.4" y1="355" x2="673.4" y2="355" stroke="#000" stroke-width="1"/>
<line x1="668.4" y1="370" x2="673.4" y2="370" stroke="#000" stroke-width="1"/>
<text x="14.5" y="474.6" font-size="22" font-weight="bold">H</text>
<line x1="42.3" y1="492.4" x2="42.3" y2="635.3" stroke="#a8a8a8" stroke-width="1.1"/>
<line x1="38.5" y1="635.3" x2="42.3" y2="635.3" stroke="#a8a8a8" stroke-width="1.1"/>
<text x="36.3" y="638.76" font-size="10.5" text-anchor="end">0</text>
<line x1="38.5" y1="599.57" x2="42.3" y2="599.57" stroke="#a8a8a8" stroke-width="1.1"/>
<text x="36.3" y="603.03" font-size="10.5" text-anchor="end">5</text>
<line x1="38.5" y1="563.85" x2="42.3" y2="563.85" stroke="#a8a8a8" stroke-width="1.1"/>
<text x="36.3" y="567.31" font-size="10.5" text-anchor="end">10</text>
<line x1="38.5" y1="528.12" x2="42.3" y2="528.12" stroke="#a8a8a8" stroke-width="1.1"/>
<text x="36.3" y="531.58" font-size="10.5" text-anchor="end">15</text>
<line x1="38.5" y1="492.4" x2="42.3" y2="492.4" stroke="#a8a8a8" stroke-width="1.1"/>
<text x="36.3" y="495.86" font-size="10.5" text-anchor="end">20</text>
<line x1="42.3" y1="635.3" x2="221.2" y2="635.3" stroke="#a8a8a8" stroke-width="1.1"/>
<line x1="61.2" y1="635.3" x2="61.2" y2="639.8" stroke="#a8a8a8" stroke-width="1.1"/>
<text x="64.4" y="647.9" font-size="11.2" text-anchor="end" transform="rotate(-45 64.4 647.9)">0</text>
<line x1="89.4" y1="635.3" x2="89.4" y2="639.8" stroke="#a8a8a8" stroke-width="1.1"/>
<text x="92.6" y="647.9" font-size="11.2" text-anchor="end" transform="rotate(-45 92.6 647.9)">15</text>
<line x1="117.6" y1="635.3" x2="117.6" y2="639.8" stroke="#a8a8a8" stroke-width="1.1"/>
<text x="120.8" y="647.9" font-size="11.2" text-anchor="end" transform="rotate(-45 120.8 647.9)">30</text>
<line x1="145.6" y1="635.3" x2="145.6" y2="639.8" stroke="#a8a8a8" stroke-width="1.1"/>
<text x="148.8" y="647.9" font-size="11.2" text-anchor="end" transform="rotate(-45 148.8 647.9)">45</text>
<line x1="173.9" y1="635.3" x2="173.9" y2="639.8" stroke="#a8a8a8" stroke-width="1.1"/>
<text x="177.1" y="647.9" font-size="11.2" text-anchor="end" transform="rotate(-45 177.1 647.9)">60</text>
<line x1="201.9" y1="635.3" x2="201.9" y2="639.8" stroke="#a8a8a8" stroke-width="1.1"/>
<text x="205.1" y="647.9" font-size="11.2" text-anchor="end" transform="rotate(-45 205.1 647.9)">120</text>
<text x="131.5" y="671.8" font-size="10.6" text-anchor="middle">Time after glucose injection &#160;(min)</text>
<text x="17.2" y="563.6" font-size="10.6" text-anchor="middle" transform="rotate(-90 17.2 563.6)">Blood Glucose &#160;(mM)</text>
<polyline points="61.2,597.6 89.4,523.5 117.6,515.8 145.6,526.3 173.9,542.3 201.9,581.8" fill="none" stroke="#444" stroke-width="0.65"/>
<polyline points="61.2,611.5 89.4,566.9 117.6,555.2 145.6,565.4 173.9,578.4 201.9,603.4" fill="none" stroke="#4444ff" stroke-width="0.65"/>
<line x1="61.2" y1="594.5" x2="61.2" y2="600.7" stroke="#444" stroke-width="0.8"/>
<line x1="58.2" y1="594.5" x2="64.2" y2="594.5" stroke="#444" stroke-width="0.8"/>
<line x1="58.2" y1="600.7" x2="64.2" y2="600.7" stroke="#444" stroke-width="0.8"/>
<line x1="89.4" y1="516.5" x2="89.4" y2="530.4" stroke="#444" stroke-width="0.8"/>
<line x1="86.4" y1="516.5" x2="92.4" y2="516.5" stroke="#444" stroke-width="0.8"/>
<line x1="86.4" y1="530.4" x2="92.4" y2="530.4" stroke="#444" stroke-width="0.8"/>
<line x1="117.6" y1="507" x2="117.6" y2="524.5" stroke="#444" stroke-width="0.8"/>
<line x1="114.6" y1="507" x2="120.6" y2="507" stroke="#444" stroke-width="0.8"/>
<line x1="114.6" y1="524.5" x2="120.6" y2="524.5" stroke="#444" stroke-width="0.8"/>
<line x1="145.6" y1="516.5" x2="145.6" y2="535.9" stroke="#444" stroke-width="0.8"/>
<line x1="142.6" y1="516.5" x2="148.6" y2="516.5" stroke="#444" stroke-width="0.8"/>
<line x1="142.6" y1="535.9" x2="148.6" y2="535.9" stroke="#444" stroke-width="0.8"/>
<line x1="173.9" y1="532.3" x2="173.9" y2="552.3" stroke="#444" stroke-width="0.8"/>
<line x1="170.9" y1="532.3" x2="176.9" y2="532.3" stroke="#444" stroke-width="0.8"/>
<line x1="170.9" y1="552.3" x2="176.9" y2="552.3" stroke="#444" stroke-width="0.8"/>
<line x1="201.9" y1="576.2" x2="201.9" y2="587.8" stroke="#444" stroke-width="0.8"/>
<line x1="198.9" y1="576.2" x2="204.9" y2="576.2" stroke="#444" stroke-width="0.8"/>
<line x1="198.9" y1="587.8" x2="204.9" y2="587.8" stroke="#444" stroke-width="0.8"/>
<line x1="61.2" y1="610" x2="61.2" y2="613" stroke="#7777ff" stroke-width="0.8"/>
<line x1="58.2" y1="610" x2="64.2" y2="610" stroke="#7777ff" stroke-width="0.8"/>
<line x1="58.2" y1="613" x2="64.2" y2="613" stroke="#7777ff" stroke-width="0.8"/>
<line x1="89.4" y1="562.5" x2="89.4" y2="571.2" stroke="#7777ff" stroke-width="0.8"/>
<line x1="86.4" y1="562.5" x2="92.4" y2="562.5" stroke="#7777ff" stroke-width="0.8"/>
<line x1="86.4" y1="571.2" x2="92.4" y2="571.2" stroke="#7777ff" stroke-width="0.8"/>
<line x1="117.6" y1="549.3" x2="117.6" y2="560.3" stroke="#7777ff" stroke-width="0.8"/>
<line x1="114.6" y1="549.3" x2="120.6" y2="549.3" stroke="#7777ff" stroke-width="0.8"/>
<line x1="114.6" y1="560.3" x2="120.6" y2="560.3" stroke="#7777ff" stroke-width="0.8"/>
<line x1="145.6" y1="558.5" x2="145.6" y2="572.2" stroke="#7777ff" stroke-width="0.8"/>
<line x1="142.6" y1="558.5" x2="148.6" y2="558.5" stroke="#7777ff" stroke-width="0.8"/>
<line x1="142.6" y1="572.2" x2="148.6" y2="572.2" stroke="#7777ff" stroke-width="0.8"/>
<line x1="173.9" y1="573.2" x2="173.9" y2="583.2" stroke="#7777ff" stroke-width="0.8"/>
<line x1="170.9" y1="573.2" x2="176.9" y2="573.2" stroke="#7777ff" stroke-width="0.8"/>
<line x1="170.9" y1="583.2" x2="176.9" y2="583.2" stroke="#7777ff" stroke-width="0.8"/>
<line x1="201.9" y1="601.5" x2="201.9" y2="605.3" stroke="#7777ff" stroke-width="0.8"/>
<line x1="198.9" y1="601.5" x2="204.9" y2="601.5" stroke="#7777ff" stroke-width="0.8"/>
<line x1="198.9" y1="605.3" x2="204.9" y2="605.3" stroke="#7777ff" stroke-width="0.8"/>
<circle cx="61.2" cy="597.6" r="3.1" fill="#000"/>
<circle cx="89.4" cy="523.5" r="3.1" fill="#000"/>
<circle cx="117.6" cy="515.8" r="3.1" fill="#000"/>
<circle cx="145.6" cy="526.3" r="3.1" fill="#000"/>
<circle cx="173.9" cy="542.3" r="3.1" fill="#000"/>
<circle cx="201.9" cy="581.8" r="3.1" fill="#000"/>
<circle cx="61.2" cy="611.5" r="3.1" fill="#1900ff"/>
<circle cx="89.4" cy="566.9" r="3.1" fill="#1900ff"/>
<circle cx="117.6" cy="555.2" r="3.1" fill="#1900ff"/>
<circle cx="145.6" cy="565.4" r="3.1" fill="#1900ff"/>
<circle cx="173.9" cy="578.4" r="3.1" fill="#1900ff"/>
<circle cx="201.9" cy="603.4" r="3.1" fill="#1900ff"/>
<text x="0" y="0" font-size="5.3" transform="translate(61 570.51) scale(0.85 1)" text-anchor="middle" fill="#111" class="p">p=0.0005</text>
<text x="0" y="0" font-size="5.3" transform="translate(89.3 510.21) scale(0.85 1)" text-anchor="middle" fill="#111" class="p">p=0.00003</text>
<text x="0" y="0" font-size="5.3" transform="translate(117.6 499.01) scale(0.85 1)" text-anchor="middle" fill="#111" class="p">p=0.0013</text>
<text x="0" y="0" font-size="5.3" transform="translate(145.6 510.41) scale(0.85 1)" text-anchor="middle" fill="#111" class="p">p=0.003</text>
<text x="0" y="0" font-size="5.3" transform="translate(173.9 524.81) scale(0.85 1)" text-anchor="middle" fill="#111" class="p">p=0.0048</text>
<text x="0" y="0" font-size="5.3" transform="translate(201.9 563.81) scale(0.85 1)" text-anchor="middle" fill="#111" class="p">p=0.0035</text>
<text x="260.7" y="476.6" font-size="22" font-weight="bold">I</text>
<line x1="288.6" y1="490.7" x2="288.6" y2="633.2" stroke="#cfcfcf" stroke-width="1.8"/>
<line x1="285" y1="633.2" x2="287.7" y2="633.2" stroke="#999" stroke-width="0.9"/>
<text x="282.8" y="637.34" font-size="12.4" text-anchor="end">0</text>
<line x1="285" y1="604.7" x2="287.7" y2="604.7" stroke="#999" stroke-width="0.9"/>
<text x="282.8" y="608.84" font-size="12.4" text-anchor="end">20</text>
<line x1="285" y1="576.2" x2="287.7" y2="576.2" stroke="#999" stroke-width="0.9"/>
<text x="282.8" y="580.34" font-size="12.4" text-anchor="end">40</text>
<line x1="285" y1="547.7" x2="287.7" y2="547.7" stroke="#999" stroke-width="0.9"/>
<text x="282.8" y="551.84" font-size="12.4" text-anchor="end">60</text>
<line x1="285" y1="519.2" x2="287.7" y2="519.2" stroke="#999" stroke-width="0.9"/>
<text x="282.8" y="523.34" font-size="12.4" text-anchor="end">80</text>
<line x1="285" y1="490.7" x2="287.7" y2="490.7" stroke="#999" stroke-width="0.9"/>
<text x="282.8" y="494.84" font-size="12.4" text-anchor="end">100</text>
<line x1="288.6" y1="633.2" x2="466.9" y2="633.2" stroke="#cfcfcf" stroke-width="1.8"/>
<line x1="307.5" y1="634.1" x2="307.5" y2="637.7" stroke="#999" stroke-width="0.9"/>
<text x="310.9" y="647.2" font-size="12.1" text-anchor="end" transform="rotate(-45 310.9 647.2)">0</text>
<line x1="335.5" y1="634.1" x2="335.5" y2="637.7" stroke="#999" stroke-width="0.9"/>
<text x="338.9" y="647.2" font-size="12.1" text-anchor="end" transform="rotate(-45 338.9 647.2)">15</text>
<line x1="363.8" y1="634.1" x2="363.8" y2="637.7" stroke="#999" stroke-width="0.9"/>
<text x="367.2" y="647.2" font-size="12.1" text-anchor="end" transform="rotate(-45 367.2 647.2)">30</text>
<line x1="391.8" y1="634.1" x2="391.8" y2="637.7" stroke="#999" stroke-width="0.9"/>
<text x="395.2" y="647.2" font-size="12.1" text-anchor="end" transform="rotate(-45 395.2 647.2)">45</text>
<line x1="419.8" y1="634.1" x2="419.8" y2="637.7" stroke="#999" stroke-width="0.9"/>
<text x="423.2" y="647.2" font-size="12.1" text-anchor="end" transform="rotate(-45 423.2 647.2)">60</text>
<line x1="448" y1="634.1" x2="448" y2="637.7" stroke="#999" stroke-width="0.9"/>
<text x="451.4" y="647.2" font-size="12.1" text-anchor="end" transform="rotate(-45 451.4 647.2)">120</text>
<text x="377.8" y="676.5" font-size="12.65" text-anchor="middle">Time after insulin injection (min)</text>
<text x="253.5" y="561" font-size="12.9" text-anchor="middle" transform="rotate(-90 253.5 561)">% of Baseline Glucose</text>
<polyline points="307.5,490.7 335.5,527.2 363.8,552 391.8,552 419.8,545 448,533.4" fill="none" stroke="#444" stroke-width="0.65"/>
<polyline points="307.5,490.7 335.5,534.6 363.8,575.6 391.8,586.2 419.8,589.2 448,576.8" fill="none" stroke="#4444ff" stroke-width="0.65"/>
<line x1="335.5" y1="519.7" x2="335.5" y2="534.7" stroke="#444" stroke-width="0.8"/>
<line x1="332.5" y1="519.7" x2="338.5" y2="519.7" stroke="#444" stroke-width="0.8"/>
<line x1="332.5" y1="534.7" x2="338.5" y2="534.7" stroke="#444" stroke-width="0.8"/>
<line x1="363.8" y1="546.5" x2="363.8" y2="557.4" stroke="#444" stroke-width="0.8"/>
<line x1="360.8" y1="546.5" x2="366.8" y2="546.5" stroke="#444" stroke-width="0.8"/>
<line x1="360.8" y1="557.4" x2="366.8" y2="557.4" stroke="#444" stroke-width="0.8"/>
<line x1="391.8" y1="546.5" x2="391.8" y2="557.4" stroke="#444" stroke-width="0.8"/>
<line x1="388.8" y1="546.5" x2="394.8" y2="546.5" stroke="#444" stroke-width="0.8"/>
<line x1="388.8" y1="557.4" x2="394.8" y2="557.4" stroke="#444" stroke-width="0.8"/>
<line x1="419.8" y1="537.1" x2="419.8" y2="552.5" stroke="#444" stroke-width="0.8"/>
<line x1="416.8" y1="537.1" x2="422.8" y2="537.1" stroke="#444" stroke-width="0.8"/>
<line x1="416.8" y1="552.5" x2="422.8" y2="552.5" stroke="#444" stroke-width="0.8"/>
<line x1="448" y1="525.4" x2="448" y2="542" stroke="#444" stroke-width="0.8"/>
<line x1="445" y1="525.4" x2="451" y2="525.4" stroke="#444" stroke-width="0.8"/>
<line x1="445" y1="542" x2="451" y2="542" stroke="#444" stroke-width="0.8"/>
<line x1="335.5" y1="530.9" x2="335.5" y2="540.3" stroke="#7777ff" stroke-width="0.8"/>
<line x1="332.5" y1="530.9" x2="338.5" y2="530.9" stroke="#7777ff" stroke-width="0.8"/>
<line x1="332.5" y1="540.3" x2="338.5" y2="540.3" stroke="#7777ff" stroke-width="0.8"/>
<line x1="363.8" y1="571.8" x2="363.8" y2="579.3" stroke="#7777ff" stroke-width="0.8"/>
<line x1="360.8" y1="571.8" x2="366.8" y2="571.8" stroke="#7777ff" stroke-width="0.8"/>
<line x1="360.8" y1="579.3" x2="366.8" y2="579.3" stroke="#7777ff" stroke-width="0.8"/>
<line x1="391.8" y1="582.5" x2="391.8" y2="589.2" stroke="#7777ff" stroke-width="0.8"/>
<line x1="388.8" y1="582.5" x2="394.8" y2="582.5" stroke="#7777ff" stroke-width="0.8"/>
<line x1="388.8" y1="589.2" x2="394.8" y2="589.2" stroke="#7777ff" stroke-width="0.8"/>
<line x1="419.8" y1="583.7" x2="419.8" y2="594.9" stroke="#7777ff" stroke-width="0.8"/>
<line x1="416.8" y1="583.7" x2="422.8" y2="583.7" stroke="#7777ff" stroke-width="0.8"/>
<line x1="416.8" y1="594.9" x2="422.8" y2="594.9" stroke="#7777ff" stroke-width="0.8"/>
<line x1="448" y1="571.3" x2="448" y2="583" stroke="#7777ff" stroke-width="0.8"/>
<line x1="445" y1="571.3" x2="451" y2="571.3" stroke="#7777ff" stroke-width="0.8"/>
<line x1="445" y1="583" x2="451" y2="583" stroke="#7777ff" stroke-width="0.8"/>
<circle cx="335.5" cy="534.6" r="3.1" fill="#1900ff"/>
<circle cx="363.8" cy="575.6" r="3.1" fill="#1900ff"/>
<circle cx="391.8" cy="586.2" r="3.1" fill="#1900ff"/>
<circle cx="419.8" cy="589.2" r="3.1" fill="#1900ff"/>
<circle cx="448" cy="576.8" r="3.1" fill="#1900ff"/>
<circle cx="307.5" cy="490.7" r="3.1" fill="#000"/>
<circle cx="335.5" cy="527.2" r="3.1" fill="#000"/>
<circle cx="363.8" cy="552" r="3.1" fill="#000"/>
<circle cx="391.8" cy="552" r="3.1" fill="#000"/>
<circle cx="419.8" cy="545" r="3.1" fill="#000"/>
<circle cx="448" cy="533.4" r="3.1" fill="#000"/>
<text x="0" y="0" font-size="4.7" transform="translate(335.5 513.19) scale(0.95 1)" text-anchor="middle" fill="#111" class="p">p=0.4406</text>
<text x="0" y="0" font-size="4.7" transform="translate(363.3 540.49) scale(0.95 1)" text-anchor="middle" fill="#111" class="p">p=0.00305</text>
<text x="0" y="0" font-size="4.7" transform="translate(391.8 540.49) scale(0.95 1)" text-anchor="middle" fill="#111" class="p">p=0.000086</text>
<text x="0" y="0" font-size="4.7" transform="translate(419.1 530.79) scale(0.95 1)" text-anchor="middle" fill="#111" class="p">p=0.0001</text>
<text x="0" y="0" font-size="4.7" transform="translate(446.9 519.39) scale(0.95 1)" text-anchor="middle" fill="#111" class="p">p=0.0004</text>
<text x="491.6" y="477.2" font-size="22" font-weight="bold">J</text>
<line x1="549.1" y1="489.1" x2="549.1" y2="634.1" stroke="#808080" stroke-width="1.2"/>
<line x1="541.1" y1="634.1" x2="549.1" y2="634.1" stroke="#808080" stroke-width="1.2"/>
<text x="538.1" y="637.74" font-size="11" text-anchor="end">0.00</text>
<line x1="541.1" y1="605.1" x2="549.1" y2="605.1" stroke="#808080" stroke-width="1.2"/>
<text x="538.1" y="608.74" font-size="11" text-anchor="end">0.05</text>
<line x1="541.1" y1="576.1" x2="549.1" y2="576.1" stroke="#808080" stroke-width="1.2"/>
<text x="538.1" y="579.74" font-size="11" text-anchor="end">0.10</text>
<line x1="541.1" y1="547.1" x2="549.1" y2="547.1" stroke="#808080" stroke-width="1.2"/>
<text x="538.1" y="550.74" font-size="11" text-anchor="end">0.15</text>
<line x1="541.1" y1="518.1" x2="549.1" y2="518.1" stroke="#808080" stroke-width="1.2"/>
<text x="538.1" y="521.74" font-size="11" text-anchor="end">0.20</text>
<line x1="541.1" y1="489.1" x2="549.1" y2="489.1" stroke="#808080" stroke-width="1.2"/>
<text x="538.1" y="492.74" font-size="11" text-anchor="end">0.25</text>
<line x1="549.1" y1="634.1" x2="598.2" y2="634.1" stroke="#808080" stroke-width="1.2"/>
<rect x="556.1" y="554.29" width="12.2" height="79.81" fill="#fff" stroke="#999" stroke-width="1.2"/>
<rect x="578.7" y="573.03" width="13" height="61.07" fill="#1900ff"/>
<line x1="562.4" y1="634.1" x2="562.4" y2="642.1" stroke="#808080" stroke-width="1.2"/>
<line x1="585" y1="634.1" x2="585" y2="642.1" stroke="#808080" stroke-width="1.2"/>
<text x="561.7" y="656.5" font-size="11.6" text-anchor="end" transform="rotate(-45 561.7 656.5)">P-PTEN WT</text>
<text x="587" y="654.5" font-size="11.6" text-anchor="end" transform="rotate(-45 587 654.5)">P-PTEN KO</text>
<text x="509.2" y="563.3" font-size="11.4" text-anchor="middle" transform="rotate(-90 509.2 563.3)">Insulin (ng/mL)</text>
<line x1="558.2" y1="514.7" x2="589.7" y2="514.7" stroke="#000" stroke-width="2"/>
<text x="574.2" y="508.72" font-size="5.6" text-anchor="middle" fill="#111" class="p">p=0.0308</text>
<circle cx="561.6" cy="523.8" r="2.3" fill="#000"/>
<circle cx="561.6" cy="529.7" r="2.3" fill="#000"/>
<circle cx="561.6" cy="535.5" r="2.3" fill="#000"/>
<circle cx="561.6" cy="558.7" r="2.3" fill="#000"/>
<circle cx="557" cy="564.9" r="2.3" fill="#000"/>
<circle cx="561.6" cy="564.9" r="2.3" fill="#000"/>
<circle cx="557" cy="570.1" r="2.3" fill="#000"/>
<circle cx="566.2" cy="570.1" r="2.3" fill="#000"/>
<circle cx="561.6" cy="581.6" r="2.3" fill="#000"/>
<line x1="561.6" y1="546.6" x2="561.6" y2="561.7" stroke="#000" stroke-width="1"/>
<line x1="559.1" y1="546.6" x2="564.1" y2="546.6" stroke="#000" stroke-width="1"/>
<line x1="559.1" y1="561.7" x2="564.1" y2="561.7" stroke="#000" stroke-width="1"/>
<circle cx="586.3" cy="558.7" r="2.3" fill="#000"/>
<circle cx="580.3" cy="564.9" r="2.3" fill="#000"/>
<circle cx="583.3" cy="564.9" r="2.3" fill="#000"/>
<circle cx="586.3" cy="564.9" r="2.3" fill="#000"/>
<circle cx="590.1" cy="564.9" r="2.3" fill="#000"/>
<circle cx="580.3" cy="575.8" r="2.3" fill="#000"/>
<circle cx="586.3" cy="575.8" r="2.3" fill="#000"/>
<circle cx="583.3" cy="581.6" r="2.3" fill="#000"/>
<circle cx="586.3" cy="581.6" r="2.3" fill="#000"/>
<circle cx="583.3" cy="587.3" r="2.3" fill="#000"/>
<circle cx="583.3" cy="593" r="2.3" fill="#000"/>
<line x1="585" y1="569.5" x2="585" y2="575.8" stroke="#000" stroke-width="1"/>
<line x1="582.5" y1="569.5" x2="587.5" y2="569.5" stroke="#000" stroke-width="1"/>
<line x1="582.5" y1="575.8" x2="587.5" y2="575.8" stroke="#000" stroke-width="1"/>
</svg>
</body></html>
